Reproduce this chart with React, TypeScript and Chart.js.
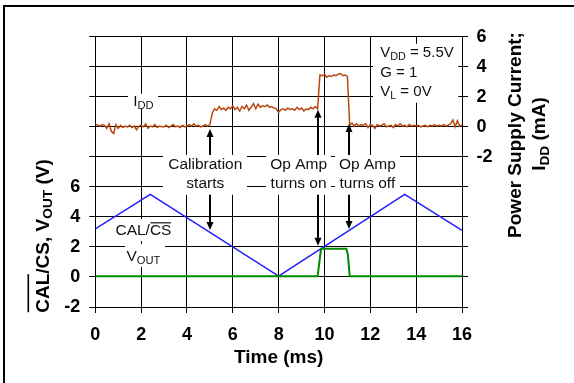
import { useEffect, useRef } from 'react';
import { Chart, registerables } from 'chart.js';

Chart.register(...registerables);

const FONT = "'Liberation Sans', Arial, Helvetica, sans-serif";

// ---------- axes ----------
const TIME_MIN = 0;
const TIME_MAX = 16;
const TIME_STEP = 2;
const V_MIN = -2;
const V_MAX = 16;
const V_LABEL_MAX = 6;
const I_MIN = -12;
const I_MAX = 6;
const I_LABEL_MIN = -2;
const Y_STEP = 2;

// ---------- data ----------
// CAL/CS ramp (V, left axis)
const CAL_T = [0, 2.4, 8, 13.5, 16];
const CAL_V = [3.2, 5.5, 0.05, 5.5, 3.1];

// VOUT (V, left axis)
const VOUT_T = [0, 9.7, 9.85, 10.95, 11.02, 11.1, 16];
const VOUT_V = [0.04, 0.04, 1.88, 1.88, 1.5, 0.04, 0.04];

// IDD (mA, right axis), sampled every 0.1 ms from 0 to 16 ms
const IDD_STEP_MS = 0.1;
const IDD_MA = [
  0.2, 0.1, 0.05, 0.15, 0.1, -0.1, 0.2, -0.3, -0.45, 0.15,
  -0.1, 0.1, -0.05, 0.05, 0.0, 0.1, -0.05, 0.05, -0.2, 0.05,
  0.1, 0.0, 0.2, -0.1, 0.05, 0.0, 0.15, -0.05, 0.05, 0.0,
  0.0, 0.1, -0.05, 0.05, 0.15, 0.0, 0.05, -0.05, 0.1, 0.0,
  0.05, 0.15, 0.05, 0.2, 0.05, 0.1, 0.0, 0.05, 0.15, 0.05,
  0.15, 0.9, 1.2, 1.1, 1.35, 1.15, 1.25, 1.1, 1.3, 1.2,
  1.4, 1.15, 1.3, 1.05, 1.35, 1.2, 1.45, 1.1, 1.3, 1.55,
  1.2, 1.5, 1.3, 1.4, 1.35, 1.45, 1.3, 1.35, 1.25, 1.2,
  0.95, 1.15, 1.2, 1.1, 1.25, 1.15, 1.2, 1.1, 1.3, 1.15,
  1.25, 1.05, 1.2, 1.15, 1.3, 1.2, 1.35, 1.2, 3.45, 3.4,
  3.5, 3.3, 3.4, 3.35, 3.45, 3.4, 3.5, 3.55, 3.4, 3.45,
  3.35, 0.1, 0.25, 0.05, 0.2, 0.05, 0.15, 0.1, 0.2, -0.05,
  0.15, 0.1, -0.1, 0.15, 0.05, 0.1, 0.2, 0.0, 0.05, 0.1,
  -0.05, 0.15, 0.05, 0.2, 0.05, 0.1, 0.0, 0.15, 0.05, 0.1,
  0.05, 0.1, 0.0, 0.05, 0.1, 0.0, 0.1, 0.05, 0.15, 0.05,
  0.1, 0.05, 0.15, 0.05, 0.1, 0.2, 0.45, 0.0, 0.4, 0.05,
  0.1,
];

// ---------- annotations (in data units: t = ms, v = left-axis volts) ----------
type Part = { t: string; sub?: boolean; over?: boolean };

const BOXES = [
  { t0: 1.43, t1: 2.74, v0: 11.2, v1: 12.2 }, // IDD label
  { t0: 2.95, t1: 6.62, v0: 5.47, v1: 8.13 }, // Calibration starts
  { t0: 7.45, t1: 10.28, v0: 5.47, v1: 8.13 }, // Op Amp turns on
  { t0: 10.46, t1: 13.3, v0: 5.47, v1: 8.13 }, // Op Amp turns off
  { t0: 12.12, t1: 15.84, v0: 11.6, v1: 15.53 }, // conditions
  { t0: 0.8, t1: 3.4, v0: 2.4, v1: 3.85 }, // CAL/CS
  { t0: 1.3, t1: 3.04, v0: 0.67, v1: 2.2 }, // VOUT
];

const LABELS: { t: number; v: number; align: 'left' | 'center'; size: number; parts: Part[] }[] = [
  { t: 2.1, v: 11.4, align: 'center', size: 15.5, parts: [{ t: 'I' }, { t: 'DD', sub: true }] },
  { t: 4.8, v: 7.2, align: 'center', size: 15.5, parts: [{ t: 'Calibration' }] },
  { t: 4.8, v: 5.9, align: 'center', size: 15.5, parts: [{ t: 'starts' }] },
  { t: 8.87, v: 7.2, align: 'center', size: 15.5, parts: [{ t: 'Op Amp' }] },
  { t: 8.87, v: 5.9, align: 'center', size: 15.5, parts: [{ t: 'turns on' }] },
  { t: 11.87, v: 7.2, align: 'center', size: 15.5, parts: [{ t: 'Op Amp' }] },
  { t: 11.87, v: 5.9, align: 'center', size: 15.5, parts: [{ t: 'turns off' }] },
  { t: 12.43, v: 14.67, align: 'left', size: 15, parts: [{ t: 'V' }, { t: 'DD', sub: true }, { t: ' = 5.5V' }] },
  { t: 12.43, v: 13.33, align: 'left', size: 15, parts: [{ t: 'G = 1' }] },
  { t: 12.43, v: 12.07, align: 'left', size: 15, parts: [{ t: 'V' }, { t: 'L', sub: true }, { t: ' = 0V' }] },
  { t: 2.1, v: 2.8, align: 'center', size: 15.5, parts: [{ t: 'CAL/' }, { t: 'CS', over: true }] },
  { t: 2.1, v: 1.09, align: 'center', size: 15.5, parts: [{ t: 'V' }, { t: 'OUT', sub: true }] },
];

// arrows: x in ms, from (box edge, left V) to tip (axis given)
const ARROWS = [
  { t: 5.0, fromV: 8.13, tip: -0.15, axis: 'yR' },
  { t: 5.0, fromV: 5.47, tip: 3.13, axis: 'yL' },
  { t: 9.73, fromV: 8.13, tip: 1.13, axis: 'yR' },
  { t: 9.73, fromV: 5.47, tip: 2.08, axis: 'yL' },
  { t: 11.08, fromV: 8.13, tip: 0.18, axis: 'yR' },
  { t: 11.08, fromV: 5.47, tip: 3.2, axis: 'yL' },
];

function drawRich(
  ctx: CanvasRenderingContext2D,
  parts: Part[],
  x: number,
  y: number,
  size: number,
  weight: string,
  align: 'left' | 'center',
  overOffset: number,
  overWidth: number,
) {
  const subSize = size * 0.72;
  const widths = parts.map((p) => {
    ctx.font = `${weight} ${p.sub ? subSize : size}px ${FONT}`;
    return ctx.measureText(p.t).width;
  });
  const total = widths.reduce((a, b) => a + b, 0);
  let cx = align === 'center' ? x - total / 2 : x;
  ctx.textAlign = 'left';
  ctx.textBaseline = 'alphabetic';
  parts.forEach((p, i) => {
    ctx.font = `${weight} ${p.sub ? subSize : size}px ${FONT}`;
    const dy = p.sub ? size * 0.2 : 0;
    ctx.fillText(p.t, cx, y + dy);
    if (p.over) {
      ctx.fillRect(cx + 0.5, y - overOffset, widths[i] - 1, overWidth);
    }
    cx += widths[i];
  });
}

const annotPlugin = {
  id: 'annot',
  beforeDatasetsDraw(chart: any) {
    const ctx: CanvasRenderingContext2D = chart.ctx;
    const xs = chart.scales.x;
    const ys = chart.scales.yL;
    const X = (t: number) => xs.getPixelForValue(t);
    const Y = (v: number) => ys.getPixelForValue(v);
    ctx.save();
    ctx.fillStyle = '#fff';
    for (const b of BOXES) {
      const x0 = X(b.t0);
      const x1 = X(b.t1);
      const y0 = Y(b.v1);
      const y1 = Y(b.v0);
      ctx.fillRect(x0, y0, x1 - x0, y1 - y0);
    }
    ctx.fillStyle = '#111';
    for (const l of LABELS) {
      drawRich(ctx, l.parts, X(l.t), Y(l.v), l.size, 'normal', l.align, l.size * 0.82, 1.2);
    }
    ctx.restore();
  },
  afterDatasetsDraw(chart: any) {
    const ctx: CanvasRenderingContext2D = chart.ctx;
    const xs = chart.scales.x;
    const ys = chart.scales.yL;
    ctx.save();
    ctx.fillStyle = '#000';
    ctx.strokeStyle = '#000';
    ctx.lineWidth = 2;
    for (const a of ARROWS) {
      const x = Math.round(xs.getPixelForValue(a.t));
      const y0 = ys.getPixelForValue(a.fromV);
      const y1 = chart.scales[a.axis].getPixelForValue(a.tip);
      const dir = y1 < y0 ? -1 : 1;
      const headLen = 8;
      ctx.beginPath();
      ctx.moveTo(x, y0);
      ctx.lineTo(x, y1 - dir * headLen);
      ctx.stroke();
      ctx.beginPath();
      ctx.moveTo(x, y1);
      ctx.lineTo(x - 3.5, y1 - dir * headLen);
      ctx.lineTo(x + 3.5, y1 - dir * headLen);
      ctx.closePath();
      ctx.fill();
    }
    ctx.restore();
  },
  afterDraw(chart: any) {
    const ctx: CanvasRenderingContext2D = chart.ctx;
    ctx.save();
    ctx.fillStyle = '#000';
    // outer frame (top and left edges visible)
    ctx.fillRect(3, 5, 2, chart.height - 5);
    ctx.fillRect(3, 5, chart.width - 3, 2);

    // left axis title
    ctx.save();
    ctx.translate(48.5, 236);
    ctx.rotate(-Math.PI / 2);
    drawRich(
      ctx,
      [{ t: 'CAL', over: true }, { t: '/CS, V' }, { t: 'OUT', sub: true }, { t: ' (V)' }],
      0,
      0,
      19,
      'bold',
      'center',
      21,
      1.6,
    );
    ctx.restore();

    // right axis title
    ctx.save();
    ctx.translate(521, 135);
    ctx.rotate(-Math.PI / 2);
    drawRich(ctx, [{ t: 'Power Supply Current;' }], 0, 0, 19, 'bold', 'center', 0, 0);
    ctx.restore();
    ctx.save();
    ctx.translate(545, 134);
    ctx.rotate(-Math.PI / 2);
    drawRich(ctx, [{ t: 'I' }, { t: 'DD', sub: true }, { t: ' (mA)' }], 0, 0, 19, 'bold', 'center', 0, 0);
    ctx.restore();

    ctx.restore();
  },
};

export default function App() {
  const ref = useRef<HTMLCanvasElement | null>(null);

  useEffect(() => {
    document.body.style.margin = '0';
    const canvas = ref.current;
    if (!canvas) return;

    const tickFont = { family: FONT, size: 18, weight: 'bold' as const };

    const chart = new Chart(canvas, {
      type: 'line',
      data: {
        datasets: [
          {
            label: 'VOUT',
            yAxisID: 'yL',
            data: VOUT_T.map((t, i) => ({ x: t, y: VOUT_V[i] })),
            borderColor: '#008a00',
            borderWidth: 2,
            pointRadius: 0,
            tension: 0,
          },
          {
            label: 'CAL/CS',
            yAxisID: 'yL',
            data: CAL_T.map((t, i) => ({ x: t, y: CAL_V[i] })),
            borderColor: '#1f1fff',
            borderWidth: 1.5,
            pointRadius: 0,
            tension: 0,
          },
          {
            label: 'IDD',
            yAxisID: 'yR',
            data: IDD_MA.map((v, i) => ({ x: i * IDD_STEP_MS, y: v })),
            borderColor: '#b8480f',
            borderWidth: 1.5,
            pointRadius: 0,
            tension: 0,
          },
        ],
      },
      options: {
        animation: false,
        responsive: false,
        devicePixelRatio: 1,
        layout: { padding: { top: 36.7, left: 0, right: 0, bottom: 0 } },
        plugins: { legend: { display: false }, tooltip: { enabled: false } },
        scales: {
          x: {
            type: 'linear',
            min: TIME_MIN,
            max: TIME_MAX,
            ticks: { stepSize: TIME_STEP, color: '#000', font: tickFont, padding: 11, maxRotation: 0, autoSkip: false },
            grid: { color: '#000', lineWidth: 1, tickLength: 6 },
            border: { display: true, color: '#000' },
            title: {
              display: true,
              text: 'Time (ms)',
              color: '#000',
              font: { family: FONT, size: 19, weight: 'bold' },
              padding: { top: 0, bottom: 13.6 },
            },
            afterFit: (s: any) => {
              s.height = 76;
            },
          },
          yL: {
            type: 'linear',
            position: 'left',
            min: V_MIN,
            max: V_MAX,
            ticks: {
              stepSize: Y_STEP,
              autoSkip: false,
              color: '#000',
              font: tickFont,
              padding: 9,
              callback: (v: any) => (Number(v) <= V_LABEL_MAX ? String(v) : ''),
            },
            grid: { color: '#000', lineWidth: 1, tickLength: 6 },
            border: { display: true, color: '#000' },
            afterFit: (s: any) => {
              s.width = 95.3;
            },
          },
          yR: {
            type: 'linear',
            position: 'right',
            min: I_MIN,
            max: I_MAX,
            ticks: {
              stepSize: Y_STEP,
              autoSkip: false,
              color: '#000',
              font: tickFont,
              padding: 8.5,
              callback: (v: any) => (Number(v) >= I_LABEL_MIN ? String(v) : ''),
            },
            grid: { color: '#000', lineWidth: 1, tickLength: 6, drawOnChartArea: false },
            border: { display: false },
            afterFit: (s: any) => {
              s.width = 112;
            },
          },
        },
      },
      plugins: [annotPlugin],
    });

    return () => chart.destroy();
  }, []);

  return (
    <div style={{ width: 574, height: 383, background: '#fff' }}>
      <canvas ref={ref} width={574} height={383} style={{ display: 'block', width: 574, height: 383 }} />
    </div>
  );
}
